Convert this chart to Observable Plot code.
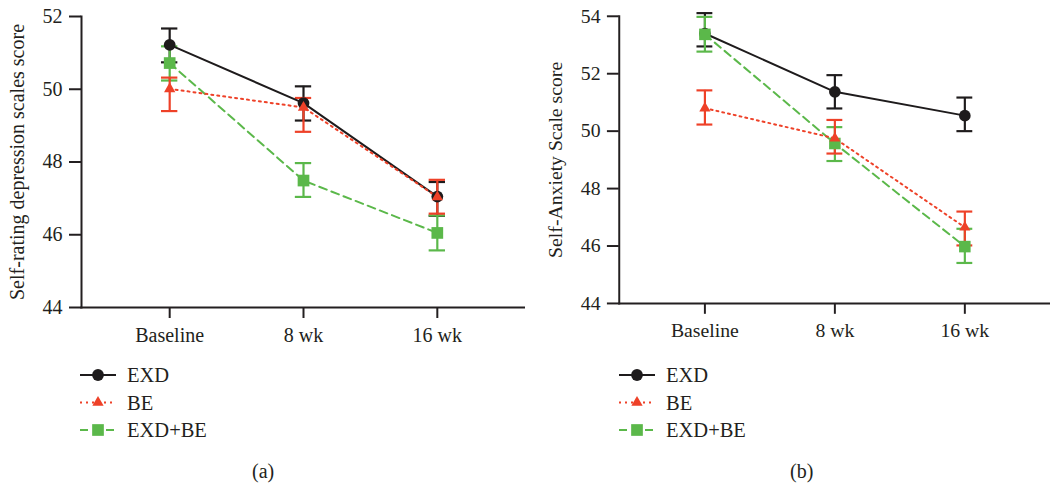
<!DOCTYPE html>
<html>
<head>
<meta charset="utf-8">
<script src="https://cdn.jsdelivr.net/npm/d3@7"></script>
<script src="https://cdn.jsdelivr.net/npm/@observablehq/plot@0.6"></script>
<style>
  html, body { margin: 0; padding: 0; background: #fff; }
  #page { position: relative; width: 1050px; height: 483px; overflow: hidden; font-family: "Liberation Serif", "DejaVu Serif", serif; color: #231f20; }
  .panel { position: absolute; top: 0; height: 350px; overflow: hidden; }
  .panel svg text { font-family: "Liberation Serif", "DejaVu Serif", serif; }
  .legend { position: absolute; }
  .caption { position: absolute; font-size: 20px; line-height: 1; }
</style>
</head>
<body>
<div id="page">
  <div class="panel" id="pa" style="left:0;width:525px"></div>
  <div class="panel" id="pb" style="left:525px;width:525px"></div>
  <div class="legend" id="la" style="left:0;top:355px"></div>
  <div class="legend" id="lb" style="left:538px;top:355px"></div>
  <div class="caption" style="left:252px;top:461px">(a)</div>
  <div class="caption" style="left:790px;top:461px">(b)</div>
</div>
<script>
// ---- data ----
const timepoints = ["Baseline", "8 wk", "16 wk"];
const groups = ["EXD", "BE", "EXD+BE"];

// (a) Self-rating depression scale
const sdsMeanEXD = [51.22, 49.62, 47.05];
const sdsLowEXD  = [50.74, 49.14, 46.52];
const sdsHighEXD = [51.67, 50.08, 47.45];
const sdsMeanBE  = [50.01, 49.50, 47.04];
const sdsLowBE   = [49.40, 48.83, 46.58];
const sdsHighBE  = [50.32, 49.76, 47.51];
const sdsMeanCombo = [50.72, 47.49, 46.05];
const sdsLowCombo  = [50.24, 47.04, 45.57];
const sdsHighCombo = [51.18, 47.97, 46.53];

// (b) Self-anxiety scale
const sasMeanEXD = [53.40, 51.37, 50.54];
const sasLowEXD  = [52.95, 50.79, 50.00];
const sasHighEXD = [54.11, 51.95, 51.17];
const sasMeanBE  = [50.80, 49.75, 46.65];
const sasLowBE   = [50.23, 49.22, 46.02];
const sasHighBE  = [51.42, 50.39, 47.20];
const sasMeanCombo = [53.37, 49.57, 45.98];
const sasLowCombo  = [52.77, 48.96, 45.41];
const sasHighCombo = [53.98, 50.14, 46.60];

const yTicksA = [44, 46, 48, 50, 52];
const yTicksB = [44, 46, 48, 50, 52, 54];

// ---- styles ----
const INK = "#231f20";
const colors = {"EXD": "#1e1b1c", "BE": "#ee4128", "EXD+BE": "#5bb84a"};
const dashes = {"EXD": null, "BE": "2,4", "EXD+BE": "8,5"};
const symbols = {"EXD": "circle", "BE": "triangle", "EXD+BE": "square"};
const sizes = {"EXD": 5.9, "BE": 4.2, "EXD+BE": 6.6};
const FONT = '"Liberation Serif", "DejaVu Serif", serif';

function rowsFor(mean, low, high) {
  return timepoints.map((t, i) => ({i, t, mean: mean[i], low: low[i], high: high[i]}));
}

function panel({width, marginLeft, yDomain, yTicks, ylabel, series}) {
  const capHalf = 0.061;
  const marks = [
    Plot.axisY({ticks: yTicks, tickSize: 12, tickPadding: 7, tickFormat: d => d, fontSize: 20,
      stroke: INK, strokeWidth: 2, fill: INK,
      label: ylabel, labelAnchor: "center", labelArrow: "none", labelOffset: 72}),
    Plot.axisX({ticks: [0, 1, 2], tickFormat: i => timepoints[i], tickSize: 11, tickPadding: 9,
      fontSize: 20, stroke: INK, strokeWidth: 2, fill: INK, label: null}),
    Plot.frame({anchor: "left", stroke: INK, strokeWidth: 2}),
    Plot.frame({anchor: "bottom", stroke: INK, strokeWidth: 2})
  ];
  const order = ["EXD", "EXD+BE", "BE"];
  for (const g of order) {
    const rows = series[g];
    const c = colors[g];
    marks.push(Plot.ruleX(rows, {x: "i", y1: "low", y2: "high", stroke: c, strokeWidth: 2.2}));
    marks.push(Plot.ruleY(rows, {y: "low", x1: d => d.i - capHalf, x2: d => d.i + capHalf, stroke: c, strokeWidth: 2.2}));
    marks.push(Plot.ruleY(rows, {y: "high", x1: d => d.i - capHalf, x2: d => d.i + capHalf, stroke: c, strokeWidth: 2.2}));
  }
  for (const g of order) {
    marks.push(Plot.line(series[g], {x: "i", y: "mean", stroke: colors[g], strokeWidth: 2,
      strokeDasharray: dashes[g] || undefined}));
  }
  for (const g of order) {
    marks.push(Plot.dot(series[g], {x: "i", y: "mean", symbol: () => symbols[g], r: sizes[g],
      fill: colors[g], stroke: "none"}));
  }
  return Plot.plot({
    width, height: 350,
    marginLeft, marginRight: 0, marginTop: 16, marginBottom: 43,
    style: `font-family: ${FONT}; font-size: 20px; color: ${INK}; background: transparent; overflow: visible;`,
    x: {type: "linear", domain: [-0.659, 2.659]},
    y: {domain: yDomain},
    symbol: {type: "identity"},
    marks
  });
}

document.getElementById("pa").appendChild(panel({
  width: 525, marginLeft: 81, yDomain: [44, 52], yTicks: yTicksA,
  ylabel: "Self-rating depression scales score",
  series: {
    "EXD": rowsFor(sdsMeanEXD, sdsLowEXD, sdsHighEXD),
    "BE": rowsFor(sdsMeanBE, sdsLowBE, sdsHighBE),
    "EXD+BE": rowsFor(sdsMeanCombo, sdsLowCombo, sdsHighCombo)
  }
}));

document.getElementById("pb").appendChild(panel({
  width: 532, marginLeft: 95, yDomain: [44, 54], yTicks: yTicksB,
  ylabel: "Self-Anxiety Scale score",
  series: {
    "EXD": rowsFor(sasMeanEXD, sasLowEXD, sasHighEXD),
    "BE": rowsFor(sasMeanBE, sasLowBE, sasHighBE),
    "EXD+BE": rowsFor(sasMeanCombo, sasLowCombo, sasHighCombo)
  }
}));

// ---- legends ----
function legend(el, offsetX) {
  const svg = d3.select(el).append("svg").attr("width", 300).attr("height", 95)
    .style("font-family", FONT).style("font-size", "20.5px");
  groups.forEach((g, k) => {
    const y = 20 + k * 27.5;
    const row = svg.append("g").attr("transform", `translate(${offsetX},${y})`);
    row.append("line").attr("x1", 0).attr("x2", 36).attr("y1", 0).attr("y2", 0)
      .attr("stroke", colors[g]).attr("stroke-width", 2)
      .attr("stroke-dasharray", dashes[g] || null);
    const area = Math.PI * sizes[g] * sizes[g];
    const sym = {circle: d3.symbolCircle, triangle: d3.symbolTriangle, square: d3.symbolSquare}[symbols[g]];
    row.append("path").attr("d", d3.symbol(sym, area)()).attr("transform", "translate(18,0)")
      .attr("fill", colors[g]);
    row.append("text").attr("x", 47).attr("y", 0).attr("dy", "0.35em").attr("fill", INK).text(g);
  });
}
legend(document.getElementById("la"), 80);
legend(document.getElementById("lb"), 81);
</script>
</body>
</html>
